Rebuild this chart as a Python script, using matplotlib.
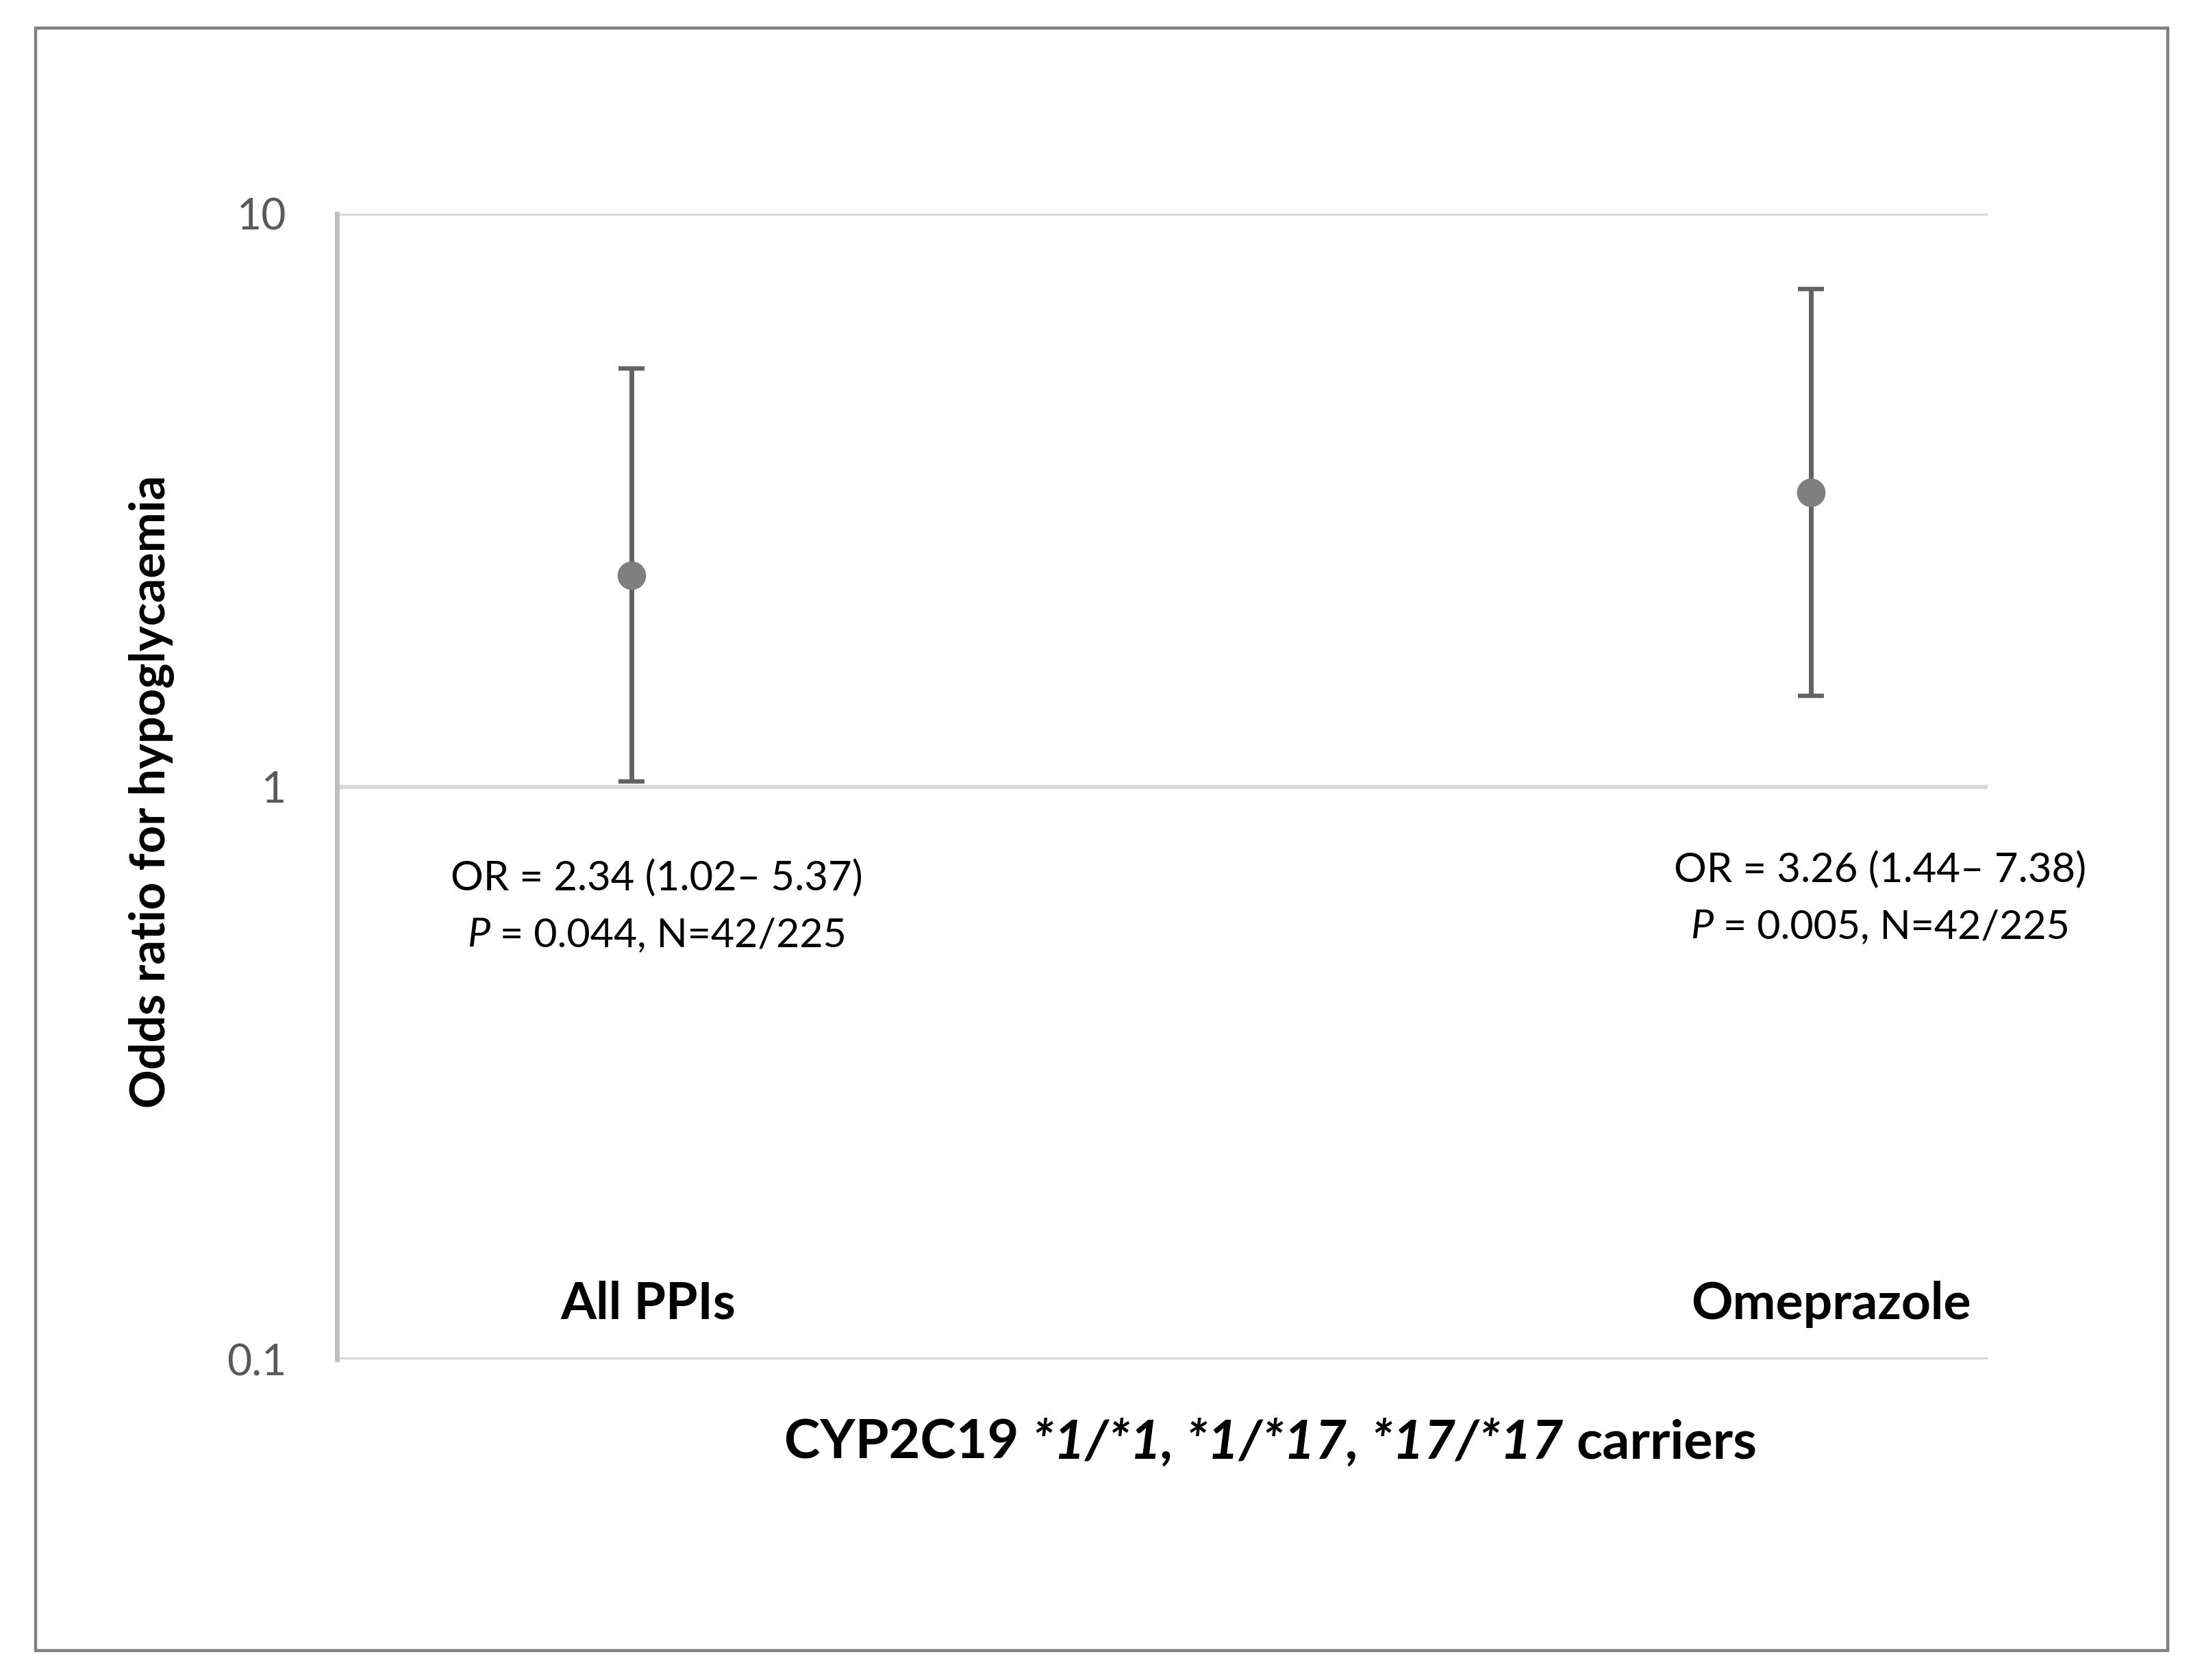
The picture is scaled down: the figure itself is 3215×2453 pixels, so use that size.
import matplotlib.pyplot as plt
from matplotlib.patches import Rectangle

# data
groups = ["All PPIs", "Omeprazole"]
group_x = [1, 5]
odds = [2.34, 3.26]
ci_low = [1.02, 1.44]
ci_high = [5.37, 7.38]
ci_text = ["(1.02– 5.37)", "(1.44– 7.38)"]
odds_text = ["2.34", "3.26"]
p_text = ["0.044", "0.005"]
n_text = ["42/225", "42/225"]
y_ticks = [0.1, 1, 10]
y_tick_labels = ["0.1", "1", "10"]

W, H = 3215, 2453
DPI = 200
plt.rcParams['font.family'] = ['Lato', 'DejaVu Sans']

fig = plt.figure(figsize=(W / DPI, H / DPI), dpi=DPI)
renderer = fig.canvas.get_renderer()


def fx(x):
    return x / W


def fy(y):
    return 1 - y / H


# outer frame
fig.add_artist(Rectangle((fx(52), fy(2410)), fx(3165) - fx(52), fy(41) - fy(2410),
                         transform=fig.transFigure, fill=False, ec='#808080', lw=1.6))

ax = fig.add_axes([fx(492), fy(1985), fx(2902) - fx(492), fy(312) - fy(1985)])
ax.set_yscale('log')
ax.set_ylim(0.1, 10)
ax.set_xlim(0, 5.6)

ax.set_yticks(y_ticks)
ax.set_yticklabels(y_tick_labels)
ax.minorticks_off()
ax.tick_params(axis='y', length=0, pad=26.6, labelsize=22.5, labelcolor='#595959')
ax.set_xticks([])
for s in ['top', 'right', 'bottom']:
    ax.spines[s].set_visible(False)
ax.spines['left'].set_color('#bfbfbf')
ax.spines['left'].set_linewidth(2.5)
for t in y_ticks:
    ax.axhline(t, color='#d9d9d9', lw=2.2, zorder=0)

lower = [o - l for o, l in zip(odds, ci_low)]
upper = [h - o for o, h in zip(odds, ci_high)]
ax.errorbar(group_x, odds, yerr=[lower, upper], fmt='none', ecolor='#636363',
            elinewidth=2.5, capsize=6.85, capthick=2.3, zorder=2)
ax.plot(group_x, odds, 'o', color='#7f7f7f', ms=15, mec='none', zorder=3)


def rich(x, y, pieces, size, color='black'):
    # pieces: list of (text, weight, style); centred on x, baseline at y (pixels)
    arts = []
    widths = []
    for txt, wt, st in pieces:
        if txt == ' ':
            a = fig.text(0, 0, 'n n', fontsize=size, weight=wt, style=st)
            b = fig.text(0, 0, 'nn', fontsize=size, weight=wt, style=st)
            w = a.get_window_extent(renderer).width - b.get_window_extent(renderer).width
            a.remove()
            b.remove()
            arts.append(None)
            widths.append(w)
        else:
            t = fig.text(0, 0, txt, fontsize=size, weight=wt, style=st, color=color,
                         va='baseline', ha='left')
            arts.append(t)
            widths.append(t.get_window_extent(renderer).width)
    total = sum(widths)
    cur = x - total / 2
    for t, w in zip(arts, widths):
        if t is not None:
            t.set_position((fx(cur), fy(y)))
        cur += w


# annotation blocks under each estimate
ann_pos = [(959, 1300, 1382), (2745, 1288, 1370)]
for i, (cx, y1, y2) in enumerate(ann_pos):
    rich(cx, y1, [("OR = " + odds_text[i] + " " + ci_text[i], 'normal', 'normal')], 21.5)
    rich(cx, y2, [("P", 'normal', 'italic'), (' ', 'normal', 'normal'),
                  ("= " + p_text[i] + ", N=" + n_text[i], 'normal', 'normal')], 21.3)

# group names
cat_pos = [946, 2674]
for name, cx in zip(groups, cat_pos):
    fig.text(fx(cx), fy(1926), name, fontsize=27, weight='bold', ha='center', va='baseline')

# axis titles
rich(1855, 2130, [("CYP2C19", 'bold', 'normal'), (' ', 'bold', 'normal'),
                  ("*1/*1, *1/*17, *17/*17", 'bold', 'italic'), (' ', 'bold', 'normal'),
                  ("carriers", 'bold', 'normal')], 28.5)
fig.text(fx(222), fy(1156), "Odds ratio for hypoglycaemia", rotation=90, fontsize=25.3,
         weight='bold', ha='center', va='center')

fig.savefig('out.png', dpi=DPI, facecolor='white')
